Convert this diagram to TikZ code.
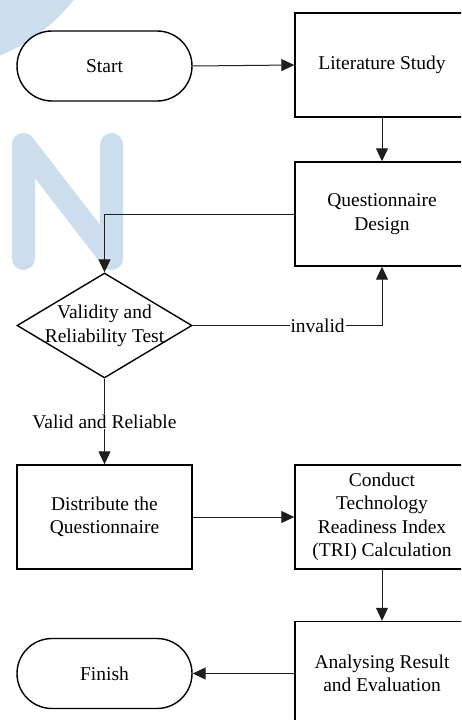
\documentclass[tikz,border=0pt]{standalone}
\usepackage{fontspec}
\setmainfont{Liberation Serif}
\usetikzlibrary{shapes.geometric,arrows.meta}
\definecolor{wmblue}{RGB}{204,222,238}
\definecolor{linegray}{RGB}{30,30,30}
\begin{document}
\begin{tikzpicture}[x=1pt,y=-1pt,
  every node/.style={font=\fontsize{19.5}{23.5}\selectfont},
  procbox/.style={draw=black,line width=1.4pt,fill=white,rectangle,minimum width=174pt,minimum height=104pt,inner sep=0pt,align=center},
  termbox/.style={draw=black,line width=1.4pt,fill=white,rectangle,rounded corners=35pt,minimum width=175pt,minimum height=70pt,inner sep=0pt,align=center},
  decbox/.style={draw=black,line width=1.4pt,fill=white,diamond,minimum width=175pt,minimum height=105pt,inner sep=0pt},
  conn/.style={draw=linegray,line width=1pt,-{Triangle[length=13pt,width=12pt]}},
  lbl/.style={fill=white,inner sep=1pt}]
\useasboundingbox (0,0) rectangle (461,720);
\clip (0,0) rectangle (461,720);
% watermark
\fill[wmblue] (-67.4,-110.4) circle (179pt);
\draw[wmblue,line width=23pt,line cap=round,line join=round]
  (23.5,258.5) -- (23.5,144.5) -- (111.5,258.5) -- (111.5,144.5);
% nodes
\node[termbox] (start) at (104.5,66) {Start};
\node[procbox] (lit) at (382,65) {Literature Study};
\node[procbox] (qd) at (382,214) {Questionnaire\\Design};
\node[decbox] (dia) at (104.5,325.5) {};
\node[align=center,inner sep=0pt] (diatext) at (104.5,326) {Validity and\\Reliability Test};
\node[procbox,minimum width=175pt] (dist) at (104.5,517) {Distribute the\\Questionnaire};
\node[procbox] (cond) at (382,517) {Conduct\\Technology\\Readiness Index\\(TRI) Calculation};
\node[procbox] (ana) at (382,673.5) {Analysing Result\\and Evaluation};
\node[termbox] (fin) at (104.5,673.5) {Finish};
% connectors
\draw[conn] (start.east) -- (lit.west);
\draw[conn] (lit.south) -- (qd.north);
\draw[conn] (qd.west) -| (dia.north);
\draw[conn] (dia.east) -| node[lbl,pos=0.33] {invalid} (qd.south);
\draw[conn] (dia.south) -- node[lbl,pos=0.5] {Valid and Reliable} (dist.north);
\draw[conn] (dist.east) -- (cond.west);
\draw[conn] (cond.south) -- (ana.north);
\draw[conn] (ana.west) -- (fin.east);
\end{tikzpicture}
\end{document}
